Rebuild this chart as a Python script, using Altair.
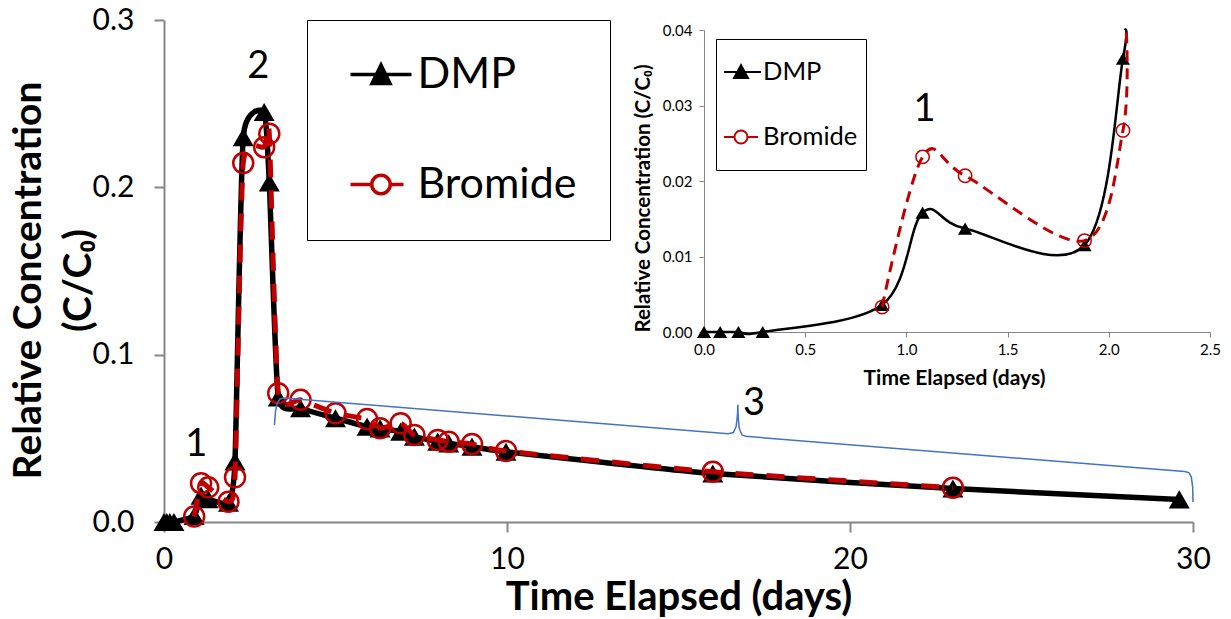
import altair as alt
import pandas as pd

# ---------------- data ----------------
time_days = [0, 0.08, 0.17, 0.29, 0.88, 1.08, 1.29, 1.88, 2.07, 2.31, 2.92, 3.07, 3.33,
             3.98, 5.0, 5.92, 6.3, 6.9, 7.3, 7.98, 8.3, 8.98, 9.97, 16.0, 23.0, 29.6]
dmp_conc = [0, 0, 0, 0, 0.0036, 0.0158, 0.0137, 0.0115, 0.0362, 0.230, 0.245, 0.203, 0.0745,
            0.068, 0.062, 0.057, 0.056, 0.054, 0.051, 0.048, 0.047, 0.045, 0.042, 0.029, 0.020, 0.0135]
bromide_conc = [None, None, None, None, 0.0033, 0.0232, 0.0207, 0.0121, 0.0267, 0.2145, 0.224, 0.232,
                0.077, 0.073, 0.065, 0.0615, 0.056, 0.059, 0.052, 0.049, 0.048, 0.0466, 0.0424,
                0.030, 0.0205, None]

series_names = ["DMP", "Bromide"]

# where the inset curves leave the top of the inset axes
inset_exit_t = [2.078, 2.086]
inset_exit_c = [0.04, 0.04]

# blue curly brace marking region 3
brace_t = [3.22, 3.25, 3.30, 3.38, 3.50, 16.45, 16.60, 16.68, 16.72, 16.73, 16.74, 16.77, 16.85,
           16.95, 29.75, 29.88, 29.95, 29.99, 30.0]
brace_c = [0.058, 0.066, 0.071, 0.0735, 0.0741, 0.0528, 0.0535, 0.057, 0.064, 0.070, 0.063, 0.056,
           0.052, 0.0512, 0.0302, 0.0295, 0.027, 0.021, 0.012]

label_text = ["1", "2", "3"]
label_t = [0.94, 2.75, 17.2]
label_c = [0.046, 0.272, 0.0705]

inset_label_text = ["1"]
inset_label_t = [1.09]
inset_label_c = [0.0294]

# ---------------- styles ----------------
FONT = "Lato"
AX_GRAY = "#868686"
RED = "#C00000"
BLUE = "#4472C4"
dmp_symbol = "M-1.877,0L1.877,0M-0.554,0.554L0,-0.585L0.554,0.554Z"
br_symbol = ("M-1.877,0L-0.569,0M0.569,0L1.385,0"
             "M-0.569,0A0.569,0.569 0 1,1 0.569,0A0.569,0.569 0 1,1 -0.569,0Z")
dmp_symbol_inset = "M-1.667,0L1.667,0M-0.583,0.5L0,-0.583L0.583,0.5Z"
br_symbol_inset = ("M-1.667,0L-0.542,0M0.542,0L1.417,0"
                   "M-0.542,0A0.542,0.542 0 1,1 0.542,0A0.542,0.542 0 1,1 -0.542,0Z")

dmp_df = pd.DataFrame({"t": time_days, "c": dmp_conc})
br_df = pd.DataFrame({"t": time_days, "c": bromide_conc}).dropna()
brace_df = pd.DataFrame({"t": brace_t, "c": brace_c, "o": list(range(len(brace_t)))})
label_df = pd.DataFrame({"t": label_t, "c": label_c, "label": label_text})
legend_df = pd.DataFrame({"series": series_names})

in_dmp_pts = dmp_df[dmp_df.t <= 2.1]
in_br_pts = br_df[br_df.t <= 2.1]
in_dmp_line = pd.concat([in_dmp_pts, pd.DataFrame({"t": [inset_exit_t[0]], "c": [inset_exit_c[0]]})])
in_br_line = pd.concat([in_br_pts, pd.DataFrame({"t": [inset_exit_t[1]], "c": [inset_exit_c[1]]})])
in_label_df = pd.DataFrame({"t": inset_label_t, "c": inset_label_c, "label": inset_label_text})

# ---------------- main chart ----------------
main_x = alt.X("t:Q", scale=alt.Scale(domain=[0, 30], nice=False, zero=False),
               axis=alt.Axis(values=[0, 10, 20, 30], format="d", grid=False, labelFlush=False,
                             labelFont=FONT, labelFontSize=30, labelColor="black", labelPadding=12,
                             domainColor=AX_GRAY, domainWidth=2, tickColor=AX_GRAY, tickWidth=2,
                             tickSize=10, title="Time Elapsed (days)", titleFont=FONT,
                             titleFontSize=40, titleFontWeight="bold", titleColor="black",
                             titleY=87, titleBaseline="alphabetic"))
main_y = alt.Y("c:Q", scale=alt.Scale(domain=[0, 0.3], nice=False),
               axis=alt.Axis(values=[0, 0.1, 0.2, 0.3], format=".1f", grid=False,
                             labelFont=FONT, labelFontSize=30, labelColor="black", labelPadding=20,
                             domainColor=AX_GRAY, domainWidth=2, tickColor=AX_GRAY, tickWidth=2,
                             tickSize=10, title=["Relative Concentration", "(C/C₀)"],
                             titleFont=FONT, titleFontSize=39, titleFontWeight="bold",
                             titleColor="black", titleLineHeight=50, titleAngle=270,
                             titleBaseline="middle", titleX=-136, titleY=260))

m_dmp_line = alt.Chart(dmp_df).mark_line(color="black", strokeWidth=5.5, interpolate="cardinal",
                                         tension=0.5).encode(x=main_x, y=main_y)
m_dmp_pts = alt.Chart(dmp_df).mark_point(shape="triangle-up", filled=True, color="black",
                                         size=440, opacity=1).encode(x=main_x, y=main_y)
m_br_line = alt.Chart(br_df).mark_line(color=RED, strokeWidth=5, strokeDash=[18, 13],
                                       interpolate="cardinal", tension=0.5).encode(x=main_x, y=main_y)
m_br_pts = alt.Chart(br_df).mark_point(shape="circle", filled=False, stroke=RED, strokeWidth=2.5,
                                       size=400, opacity=1).encode(x=main_x, y=main_y)
m_brace = alt.Chart(brace_df).mark_line(color=BLUE, strokeWidth=1.5).encode(
    x=main_x, y=main_y, order="o:Q")
m_text = alt.Chart(label_df).mark_text(font=FONT, fontSize=38, color="black").encode(
    x=main_x, y=main_y, text="label:N")

m_legend = alt.Chart(legend_df).mark_point(opacity=0).encode(
    shape=alt.Shape("series:N", title=None,
                    scale=alt.Scale(domain=series_names, range=[dmp_symbol, br_symbol]),
                    legend=alt.Legend(orient="none", legendX=143, legendY=0, title=None,
                                      strokeColor="black", fillColor="white", padding=33,
                                      rowPadding=66, symbolOffset=19.5, labelOffset=15,
                                      symbolSize=1056, symbolStrokeWidth=3.5, symbolOpacity=1,
                                      labelFont=FONT, labelFontSize=43, labelColor="black")),
    fill=alt.Fill("series:N", title=None,
                  scale=alt.Scale(domain=series_names, range=["black", "transparent"])),
    stroke=alt.Stroke("series:N", title=None,
                      scale=alt.Scale(domain=series_names, range=["black", RED])),
)

main = alt.layer(m_dmp_line, m_dmp_pts, m_br_line, m_br_pts, m_brace, m_text, m_legend)

# ---------------- inset chart ----------------
in_x = alt.X("t:Q", scale=alt.Scale(domain=[0, 2.5], range=[540, 1046], nice=False, zero=False),
             axis=alt.Axis(orient="bottom", offset=-190, values=[0, 0.5, 1.0, 1.5, 2.0, 2.5],
                           format=".1f", grid=False, labelFlush=False, labelFont=FONT,
                           labelFontSize=15, labelColor="black", labelPadding=5,
                           domainColor=AX_GRAY, tickColor=AX_GRAY, tickSize=5,
                           title="Time Elapsed (days)", titleFont=FONT, titleFontSize=21,
                           titleFontWeight="bold", titleColor="black", titleX=790, titleY=52,
                           titleBaseline="alphabetic"))
in_y = alt.Y("c:Q", scale=alt.Scale(domain=[0, 0.04], range=[312, 10], nice=False),
             axis=alt.Axis(orient="left", offset=-540, values=[0, 0.01, 0.02, 0.03, 0.04],
                           format=".2f", grid=False, labelFont=FONT, labelFontSize=15,
                           labelColor="black", labelPadding=7, domainColor=AX_GRAY,
                           tickColor=AX_GRAY, tickSize=5, title="Relative Concentration (C/C₀)",
                           titleFont=FONT, titleFontSize=20.5, titleFontWeight="bold",
                           titleColor="black", titleAngle=270, titleBaseline="middle",
                           titleX=-61, titleY=178))

i_dmp_line = alt.Chart(in_dmp_line).mark_line(color="black", strokeWidth=2.5,
                                              interpolate="cardinal").encode(x=in_x, y=in_y)
i_dmp_pts = alt.Chart(in_dmp_pts).mark_point(shape="triangle-up", filled=True, color="black",
                                             size=200, opacity=1).encode(x=in_x, y=in_y)
i_br_line = alt.Chart(in_br_line).mark_line(color=RED, strokeWidth=3, strokeDash=[11, 7],
                                            interpolate="cardinal").encode(x=in_x, y=in_y)
i_br_pts = alt.Chart(in_br_pts).mark_point(shape="circle", filled=False, stroke=RED,
                                           strokeWidth=1.5, size=180, opacity=1).encode(x=in_x, y=in_y)
i_text = alt.Chart(in_label_df).mark_text(font=FONT, fontSize=38, color="black").encode(
    x=in_x, y=in_y, text="label:N")
i_legend = alt.Chart(legend_df).mark_point(opacity=0).encode(
    shape=alt.Shape("series:N", title=None,
                    scale=alt.Scale(domain=series_names, range=[dmp_symbol_inset, br_symbol_inset]),
                    legend=alt.Legend(orient="none", legendX=552, legendY=19, title=None,
                                      strokeColor="black", fillColor="white", padding=8,
                                      clipHeight=50, rowPadding=15, symbolOffset=4, labelOffset=9,
                                      symbolSize=576, symbolStrokeWidth=2, symbolOpacity=1,
                                      labelFont=FONT, labelFontSize=25.5, labelColor="black")),
    fill=alt.Fill("series:N", title=None,
                  scale=alt.Scale(domain=series_names, range=["black", "transparent"])),
    stroke=alt.Stroke("series:N", title=None,
                      scale=alt.Scale(domain=series_names, range=["black", RED])),
)

inset = alt.layer(i_dmp_line, i_dmp_pts, i_br_line, i_br_pts, i_text, i_legend)

chart = alt.layer(main, inset).resolve_scale(
    x="independent", y="independent", shape="independent", fill="independent", stroke="independent"
).properties(
    width=1029, height=502,
    autosize=alt.AutoSizeParams(type="none"),
    padding={"left": 164, "top": 20, "right": 38, "bottom": 97},
    background="white",
).configure_view(stroke=None)

chart.save("out.html", embed_options={"renderer": "svg", "actions": False})
